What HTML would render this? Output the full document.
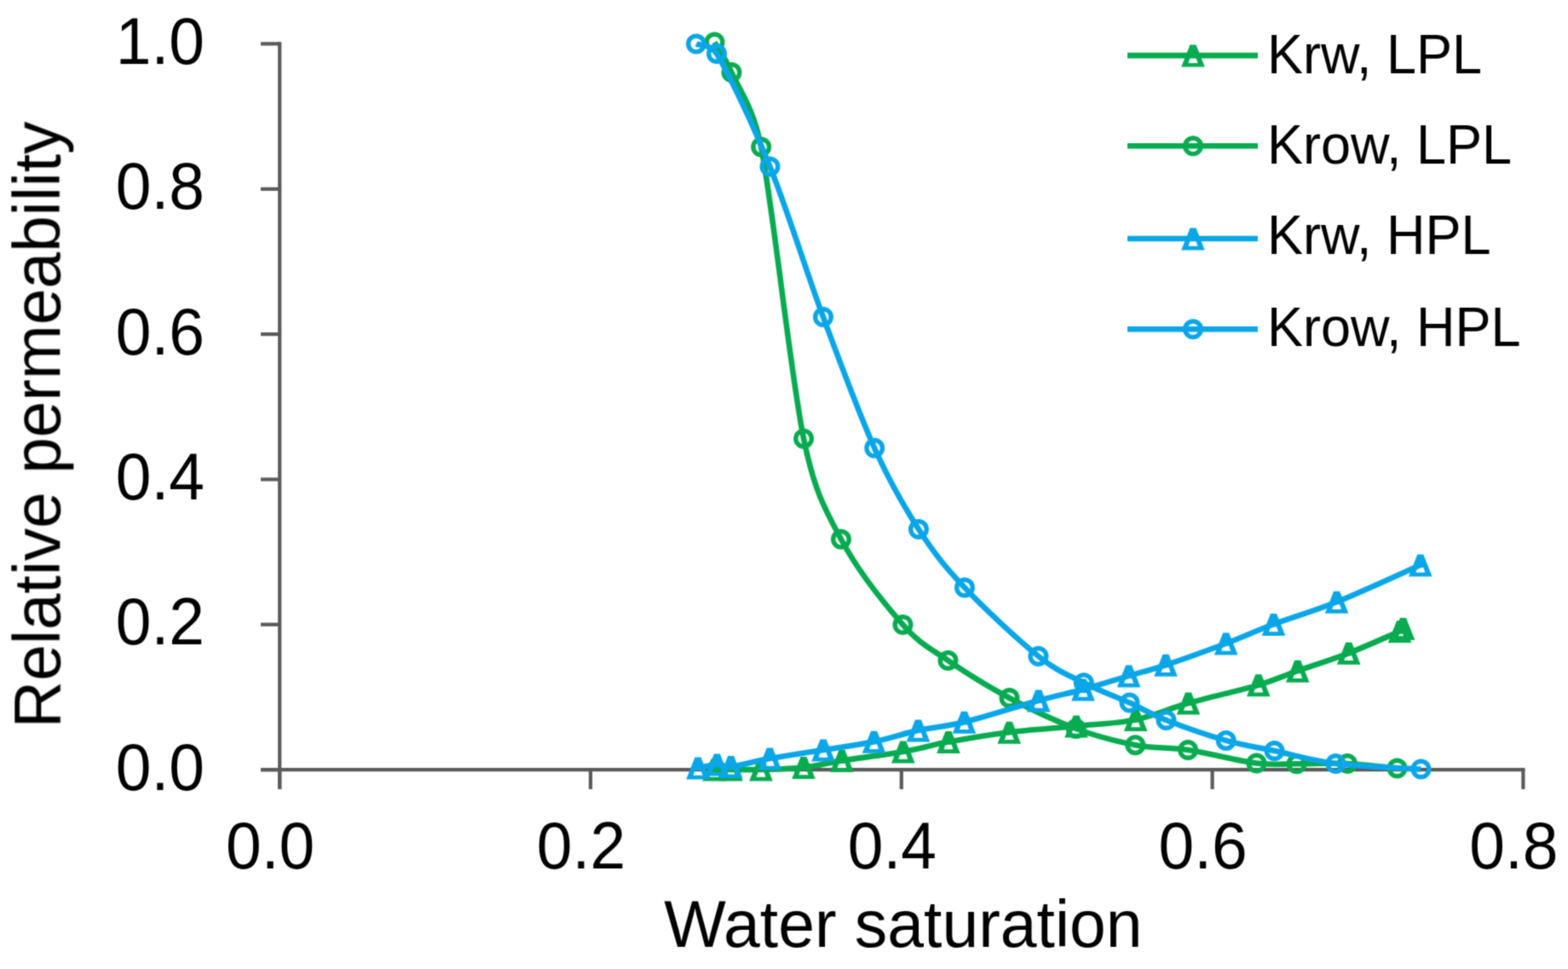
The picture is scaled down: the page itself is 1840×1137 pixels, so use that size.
<!DOCTYPE html><html><head><meta charset="utf-8"><style>html,body{margin:0;padding:0;background:#fff;}svg{display:block;}text{font-family:"Liberation Sans",Arial,sans-serif;fill:#000;}</style></head><body>
<svg width="1840" height="1137" viewBox="0 0 1840 1137">
<defs><filter id="b" x="0" y="0" width="1840" height="1137" filterUnits="userSpaceOnUse" color-interpolation-filters="sRGB"><feConvolveMatrix order="3" kernelMatrix="0.0400 0.1200 0.0400 0.1200 0.3600 0.1200 0.0400 0.1200 0.0400" divisor="1" edgeMode="duplicate" preserveAlpha="false"/></filter></defs>
<rect width="1840" height="1137" fill="#fff"/>
<g filter="url(#b)">
<g stroke="#5a5a5a" stroke-width="4.2" fill="none" stroke-linecap="butt">
<line x1="328.2" y1="49.3" x2="328.2" y2="926"/>
<line x1="306" y1="903.2" x2="1789.5" y2="903.2"/>
<line x1="306" y1="903.2" x2="328.2" y2="903.2"/>
<line x1="306" y1="732.8" x2="328.2" y2="732.8"/>
<line x1="306" y1="562.5" x2="328.2" y2="562.5"/>
<line x1="306" y1="392.1" x2="328.2" y2="392.1"/>
<line x1="306" y1="221.8" x2="328.2" y2="221.8"/>
<line x1="306" y1="51.4" x2="328.2" y2="51.4"/>
<line x1="328.2" y1="903.2" x2="328.2" y2="926"/>
<line x1="693.0" y1="903.2" x2="693.0" y2="926"/>
<line x1="1057.8" y1="903.2" x2="1057.8" y2="926"/>
<line x1="1422.6" y1="903.2" x2="1422.6" y2="926"/>
<line x1="1787.4" y1="903.2" x2="1787.4" y2="926"/>
</g>
<g transform="translate(240,926.7) scale(1,1.025)"><text x="0.0" y="0.0" font-size="75.0" text-anchor="end">0.0</text></g>
<g transform="translate(240,756.3) scale(1,1.025)"><text x="0.0" y="0.0" font-size="75.0" text-anchor="end">0.2</text></g>
<g transform="translate(240,586.0) scale(1,1.025)"><text x="0.0" y="0.0" font-size="75.0" text-anchor="end">0.4</text></g>
<g transform="translate(240,415.6) scale(1,1.025)"><text x="0.0" y="0.0" font-size="75.0" text-anchor="end">0.6</text></g>
<g transform="translate(240,245.3) scale(1,1.025)"><text x="0.0" y="0.0" font-size="75.0" text-anchor="end">0.8</text></g>
<g transform="translate(240,74.9) scale(1,1.025)"><text x="0.0" y="0.0" font-size="75.0" text-anchor="end">1.0</text></g>
<g transform="translate(317.2,1019) scale(1,1.025)"><text x="0.0" y="0.0" font-size="75.0" text-anchor="middle">0.0</text></g>
<g transform="translate(682.0,1019) scale(1,1.025)"><text x="0.0" y="0.0" font-size="75.0" text-anchor="middle">0.2</text></g>
<g transform="translate(1046.8,1019) scale(1,1.025)"><text x="0.0" y="0.0" font-size="75.0" text-anchor="middle">0.4</text></g>
<g transform="translate(1411.6,1019) scale(1,1.025)"><text x="0.0" y="0.0" font-size="75.0" text-anchor="middle">0.6</text></g>
<g transform="translate(1776.4,1019) scale(1,1.025)"><text x="0.0" y="0.0" font-size="75.0" text-anchor="middle">0.8</text></g>
<g transform="translate(1059.9,1111) scale(1,1.018)"><text x="0.0" y="0.0" font-size="76.9" text-anchor="middle">Water saturation</text></g>
<g transform="translate(70.6,498.4) rotate(-90) scale(1,1.018)"><text x="0.0" y="0.0" font-size="76.7" text-anchor="middle">Relative permeability</text></g>
<path d="M838.0,903.0 C841.3,903.0 848.8,903.0 858.0,903.0 C867.2,903.0 878.8,903.4 893.0,903.0 C907.2,902.6 927.2,902.2 943.0,900.5 C958.8,898.8 968.5,895.6 988.0,892.5 C1007.5,889.4 1039.0,885.7 1059.8,882.0 C1080.6,878.3 1092.2,874.3 1113.0,870.5 C1133.8,866.7 1159.3,862.3 1184.3,859.2 C1209.3,856.1 1238.3,854.5 1263.0,852.0 C1287.7,849.5 1310.8,849.0 1332.7,844.5 C1354.6,840.0 1370.5,831.8 1394.5,825.0 C1418.5,818.2 1455.4,810.1 1476.8,803.8 C1498.2,797.5 1505.0,793.5 1522.7,787.2 C1540.4,781.0 1562.7,774.0 1582.7,766.3 C1602.7,758.6 1632.6,745.0 1642.6,740.8" fill="none" stroke="#08ab50" stroke-width="6.6" stroke-linejoin="round"/>
<path d="M834.5,890.5 L841.5,890.5 L851.8,916.5 L824.2,916.5Z M834.5,906.0 L841.5,906.0 L843.5,911.8 L832.5,911.8Z" fill="#08ab50" fill-rule="evenodd"/>
<path d="M854.5,890.5 L861.5,890.5 L871.8,916.5 L844.2,916.5Z M854.5,906.0 L861.5,906.0 L863.5,911.8 L852.5,911.8Z" fill="#08ab50" fill-rule="evenodd"/>
<path d="M889.5,890.5 L896.5,890.5 L906.8,916.5 L879.2,916.5Z M889.5,906.0 L896.5,906.0 L898.5,911.8 L887.5,911.8Z" fill="#08ab50" fill-rule="evenodd"/>
<path d="M939.5,888.0 L946.5,888.0 L956.8,914.0 L929.2,914.0Z M939.5,903.5 L946.5,903.5 L948.5,909.3 L937.5,909.3Z" fill="#08ab50" fill-rule="evenodd"/>
<path d="M984.5,880.0 L991.5,880.0 L1001.8,906.0 L974.2,906.0Z M984.5,895.5 L991.5,895.5 L993.5,901.3 L982.5,901.3Z" fill="#08ab50" fill-rule="evenodd"/>
<path d="M1056.3,869.5 L1063.3,869.5 L1073.6,895.5 L1046.0,895.5Z M1056.3,885.0 L1063.3,885.0 L1065.3,890.8 L1054.3,890.8Z" fill="#08ab50" fill-rule="evenodd"/>
<path d="M1109.5,858.0 L1116.5,858.0 L1126.8,884.0 L1099.2,884.0Z M1109.5,873.5 L1116.5,873.5 L1118.5,879.3 L1107.5,879.3Z" fill="#08ab50" fill-rule="evenodd"/>
<path d="M1180.8,846.7 L1187.8,846.7 L1198.1,872.7 L1170.5,872.7Z M1180.8,862.2 L1187.8,862.2 L1189.8,868.0 L1178.8,868.0Z" fill="#08ab50" fill-rule="evenodd"/>
<path d="M1259.5,839.5 L1266.5,839.5 L1276.8,865.5 L1249.2,865.5Z M1259.5,855.0 L1266.5,855.0 L1268.5,860.8 L1257.5,860.8Z" fill="#08ab50" fill-rule="evenodd"/>
<path d="M1329.2,832.0 L1336.2,832.0 L1346.5,858.0 L1318.9,858.0Z M1329.2,847.5 L1336.2,847.5 L1338.2,853.3 L1327.2,853.3Z" fill="#08ab50" fill-rule="evenodd"/>
<path d="M1391.0,812.5 L1398.0,812.5 L1408.3,838.5 L1380.7,838.5Z M1391.0,828.0 L1398.0,828.0 L1400.0,833.8 L1389.0,833.8Z" fill="#08ab50" fill-rule="evenodd"/>
<path d="M1473.3,791.3 L1480.3,791.3 L1490.6,817.3 L1463.0,817.3Z M1473.3,806.8 L1480.3,806.8 L1482.3,812.6 L1471.3,812.6Z" fill="#08ab50" fill-rule="evenodd"/>
<path d="M1519.2,774.7 L1526.2,774.7 L1536.5,800.7 L1508.9,800.7Z M1519.2,790.2 L1526.2,790.2 L1528.2,796.0 L1517.2,796.0Z" fill="#08ab50" fill-rule="evenodd"/>
<path d="M1579.2,753.8 L1586.2,753.8 L1596.5,779.8 L1568.9,779.8Z M1579.2,769.3 L1586.2,769.3 L1588.2,775.1 L1577.2,775.1Z" fill="#08ab50" fill-rule="evenodd"/>
<path d="M1639.1,728.3 L1646.1,728.3 L1656.4,754.3 L1628.8,754.3Z M1639.1,743.8 L1646.1,743.8 L1648.1,749.6 L1637.1,749.6Z" fill="#08ab50" fill-rule="evenodd"/>
<path d="M1643.0,725.0 L1650.0,725.0 L1660.3,751.0 L1632.7,751.0Z M1643.0,740.5 L1650.0,740.5 L1652.0,746.3 L1641.0,746.3Z" fill="#08ab50" fill-rule="evenodd"/>
<path d="M838.5,49.5 C841.8,55.4 850.2,66.4 858.5,85.0 C867.6,105.5 884.1,126.3 893.2,172.5 C907.3,244.1 927.5,438.0 943.1,514.7 C955.7,576.4 967.6,596.4 987.0,632.8 C1006.4,669.2 1038.6,709.3 1059.5,733.0 C1080.4,756.7 1091.7,760.7 1112.5,775.0 C1133.3,789.3 1159.5,805.7 1184.5,819.0 C1209.5,832.3 1238.1,845.8 1262.7,855.0 C1287.3,864.2 1310.4,870.0 1332.3,874.2 C1354.2,878.4 1370.4,876.5 1394.1,880.0 C1417.8,883.5 1453.2,892.8 1474.5,895.5 C1495.8,898.2 1503.8,896.2 1521.6,896.3 C1539.3,896.4 1561.3,895.1 1581.0,896.0 C1600.7,896.9 1629.8,900.6 1639.5,901.5" fill="none" stroke="#08ab50" stroke-width="6.6" stroke-linejoin="round"/>
<circle cx="838.5" cy="49.5" r="9.3" fill="none" stroke="#08ab50" stroke-width="5.4"/>
<circle cx="858.5" cy="85.0" r="9.3" fill="none" stroke="#08ab50" stroke-width="5.4"/>
<circle cx="893.2" cy="172.5" r="9.3" fill="none" stroke="#08ab50" stroke-width="5.4"/>
<circle cx="943.1" cy="514.7" r="9.3" fill="none" stroke="#08ab50" stroke-width="5.4"/>
<circle cx="987.0" cy="632.8" r="9.3" fill="none" stroke="#08ab50" stroke-width="5.4"/>
<circle cx="1059.5" cy="733.0" r="9.3" fill="none" stroke="#08ab50" stroke-width="5.4"/>
<circle cx="1112.5" cy="775.0" r="9.3" fill="none" stroke="#08ab50" stroke-width="5.4"/>
<circle cx="1184.5" cy="819.0" r="9.3" fill="none" stroke="#08ab50" stroke-width="5.4"/>
<circle cx="1262.7" cy="855.0" r="9.3" fill="none" stroke="#08ab50" stroke-width="5.4"/>
<circle cx="1332.3" cy="874.2" r="9.3" fill="none" stroke="#08ab50" stroke-width="5.4"/>
<circle cx="1394.1" cy="880.0" r="9.3" fill="none" stroke="#08ab50" stroke-width="5.4"/>
<circle cx="1474.5" cy="895.5" r="9.3" fill="none" stroke="#08ab50" stroke-width="5.4"/>
<circle cx="1521.6" cy="896.3" r="9.3" fill="none" stroke="#08ab50" stroke-width="5.4"/>
<circle cx="1581.0" cy="896.0" r="9.3" fill="none" stroke="#08ab50" stroke-width="5.4"/>
<circle cx="1639.5" cy="901.5" r="9.3" fill="none" stroke="#08ab50" stroke-width="5.4"/>
<path d="M819.0,901.0 C822.7,900.3 834.9,897.2 841.4,897.0 C847.9,896.8 849.5,900.5 857.7,899.6 C868.0,898.4 885.2,893.3 903.3,890.0 C921.4,886.7 945.7,883.3 966.1,880.0 C986.5,876.7 1007.0,874.1 1025.6,870.3 C1044.2,866.5 1059.8,860.8 1077.5,857.0 C1095.2,853.2 1108.0,853.1 1131.5,847.3 C1155.0,841.5 1195.5,828.4 1218.7,822.0 C1242.0,815.6 1253.3,813.8 1271.0,809.0 C1288.7,804.2 1308.4,797.8 1324.6,793.0 C1340.8,788.2 1349.0,786.6 1368.0,780.3 C1387.0,774.0 1417.6,763.0 1438.7,755.0 C1459.8,747.0 1472.8,740.6 1494.5,732.5 C1516.2,724.4 1539.9,717.9 1568.6,706.3 C1597.3,694.7 1650.4,670.2 1666.8,663.0" fill="none" stroke="#0aa6e8" stroke-width="6.6" stroke-linejoin="round"/>
<path d="M815.5,888.5 L822.5,888.5 L832.8,914.5 L805.2,914.5Z M815.5,904.0 L822.5,904.0 L824.5,909.8 L813.5,909.8Z" fill="#0aa6e8" fill-rule="evenodd"/>
<path d="M837.9,884.5 L844.9,884.5 L855.2,910.5 L827.6,910.5Z M837.9,900.0 L844.9,900.0 L846.9,905.8 L835.9,905.8Z" fill="#0aa6e8" fill-rule="evenodd"/>
<path d="M854.2,887.1 L861.2,887.1 L871.5,913.1 L843.9,913.1Z M854.2,902.6 L861.2,902.6 L863.2,908.4 L852.2,908.4Z" fill="#0aa6e8" fill-rule="evenodd"/>
<path d="M899.8,877.5 L906.8,877.5 L917.1,903.5 L889.5,903.5Z M899.8,893.0 L906.8,893.0 L908.8,898.8 L897.8,898.8Z" fill="#0aa6e8" fill-rule="evenodd"/>
<path d="M962.6,867.5 L969.6,867.5 L979.9,893.5 L952.3,893.5Z M962.6,883.0 L969.6,883.0 L971.6,888.8 L960.6,888.8Z" fill="#0aa6e8" fill-rule="evenodd"/>
<path d="M1022.1,857.8 L1029.1,857.8 L1039.4,883.8 L1011.8,883.8Z M1022.1,873.3 L1029.1,873.3 L1031.1,879.1 L1020.1,879.1Z" fill="#0aa6e8" fill-rule="evenodd"/>
<path d="M1074.0,844.5 L1081.0,844.5 L1091.3,870.5 L1063.7,870.5Z M1074.0,860.0 L1081.0,860.0 L1083.0,865.8 L1072.0,865.8Z" fill="#0aa6e8" fill-rule="evenodd"/>
<path d="M1128.0,834.8 L1135.0,834.8 L1145.3,860.8 L1117.7,860.8Z M1128.0,850.3 L1135.0,850.3 L1137.0,856.1 L1126.0,856.1Z" fill="#0aa6e8" fill-rule="evenodd"/>
<path d="M1215.2,809.5 L1222.2,809.5 L1232.5,835.5 L1204.9,835.5Z M1215.2,825.0 L1222.2,825.0 L1224.2,830.8 L1213.2,830.8Z" fill="#0aa6e8" fill-rule="evenodd"/>
<path d="M1267.5,796.5 L1274.5,796.5 L1284.8,822.5 L1257.2,822.5Z M1267.5,812.0 L1274.5,812.0 L1276.5,817.8 L1265.5,817.8Z" fill="#0aa6e8" fill-rule="evenodd"/>
<path d="M1321.1,780.5 L1328.1,780.5 L1338.4,806.5 L1310.8,806.5Z M1321.1,796.0 L1328.1,796.0 L1330.1,801.8 L1319.1,801.8Z" fill="#0aa6e8" fill-rule="evenodd"/>
<path d="M1364.5,767.8 L1371.5,767.8 L1381.8,793.8 L1354.2,793.8Z M1364.5,783.3 L1371.5,783.3 L1373.5,789.1 L1362.5,789.1Z" fill="#0aa6e8" fill-rule="evenodd"/>
<path d="M1435.2,742.5 L1442.2,742.5 L1452.5,768.5 L1424.9,768.5Z M1435.2,758.0 L1442.2,758.0 L1444.2,763.8 L1433.2,763.8Z" fill="#0aa6e8" fill-rule="evenodd"/>
<path d="M1491.0,720.0 L1498.0,720.0 L1508.3,746.0 L1480.7,746.0Z M1491.0,735.5 L1498.0,735.5 L1500.0,741.3 L1489.0,741.3Z" fill="#0aa6e8" fill-rule="evenodd"/>
<path d="M1565.1,693.8 L1572.1,693.8 L1582.4,719.8 L1554.8,719.8Z M1565.1,709.3 L1572.1,709.3 L1574.1,715.1 L1563.1,715.1Z" fill="#0aa6e8" fill-rule="evenodd"/>
<path d="M1663.3,650.5 L1670.3,650.5 L1680.6,676.5 L1653.0,676.5Z M1663.3,666.0 L1670.3,666.0 L1672.3,671.8 L1661.3,671.8Z" fill="#0aa6e8" fill-rule="evenodd"/>
<path d="M817.0,51.5 C821.0,53.4 834.1,51.6 841.0,63.0 C855.4,87.0 882.7,144.0 903.5,195.5 C924.3,247.0 945.5,316.9 966.0,372.0 C986.5,427.1 1007.5,484.3 1026.2,525.8 C1044.9,567.3 1060.4,593.7 1078.0,621.0 C1095.6,648.3 1108.6,664.7 1132.0,689.5 C1155.4,714.3 1195.2,751.4 1218.5,770.0 C1241.8,788.6 1254.0,792.1 1271.8,801.2 C1289.6,810.3 1309.4,817.3 1325.5,824.6 C1341.6,831.9 1349.6,837.6 1368.5,845.0 C1387.4,852.4 1417.5,862.9 1438.7,868.9 C1459.9,874.9 1474.0,876.5 1495.5,881.0 C1517.0,885.5 1538.8,892.4 1567.5,896.0 C1596.2,899.6 1650.8,901.4 1667.5,902.5" fill="none" stroke="#0aa6e8" stroke-width="6.6" stroke-linejoin="round"/>
<circle cx="817.0" cy="51.5" r="9.3" fill="none" stroke="#0aa6e8" stroke-width="5.4"/>
<circle cx="841.0" cy="63.0" r="9.3" fill="none" stroke="#0aa6e8" stroke-width="5.4"/>
<circle cx="903.5" cy="195.5" r="9.3" fill="none" stroke="#0aa6e8" stroke-width="5.4"/>
<circle cx="966.0" cy="372.0" r="9.3" fill="none" stroke="#0aa6e8" stroke-width="5.4"/>
<circle cx="1026.2" cy="525.8" r="9.3" fill="none" stroke="#0aa6e8" stroke-width="5.4"/>
<circle cx="1078.0" cy="621.0" r="9.3" fill="none" stroke="#0aa6e8" stroke-width="5.4"/>
<circle cx="1132.0" cy="689.5" r="9.3" fill="none" stroke="#0aa6e8" stroke-width="5.4"/>
<circle cx="1218.5" cy="770.0" r="9.3" fill="none" stroke="#0aa6e8" stroke-width="5.4"/>
<circle cx="1271.8" cy="801.2" r="9.3" fill="none" stroke="#0aa6e8" stroke-width="5.4"/>
<circle cx="1325.5" cy="824.6" r="9.3" fill="none" stroke="#0aa6e8" stroke-width="5.4"/>
<circle cx="1368.5" cy="845.0" r="9.3" fill="none" stroke="#0aa6e8" stroke-width="5.4"/>
<circle cx="1438.7" cy="868.9" r="9.3" fill="none" stroke="#0aa6e8" stroke-width="5.4"/>
<circle cx="1495.5" cy="881.0" r="9.3" fill="none" stroke="#0aa6e8" stroke-width="5.4"/>
<circle cx="1567.5" cy="896.0" r="9.3" fill="none" stroke="#0aa6e8" stroke-width="5.4"/>
<circle cx="1667.5" cy="902.5" r="9.3" fill="none" stroke="#0aa6e8" stroke-width="5.4"/>
<line x1="1323" y1="65.1" x2="1476" y2="65.1" stroke="#08ab50" stroke-width="6.6"/>
<path d="M1396.5,52.6 L1403.5,52.6 L1413.8,78.6 L1386.2,78.6Z M1396.5,68.1 L1403.5,68.1 L1405.5,73.9 L1394.5,73.9Z" fill="#08ab50" fill-rule="evenodd"/>
<g transform="translate(1487,85.5) scale(1,1.020)"><text x="0.0" y="0.0" font-size="63.0" text-anchor="start">Krw, LPL</text></g>
<line x1="1323" y1="171.3" x2="1476" y2="171.3" stroke="#08ab50" stroke-width="6.6"/>
<circle cx="1400.0" cy="171.3" r="9.3" fill="none" stroke="#08ab50" stroke-width="5.4"/>
<g transform="translate(1487,191.5) scale(1,1.020)"><text x="0.0" y="0.0" font-size="63.0" text-anchor="start">Krow, LPL</text></g>
<line x1="1323" y1="280.0" x2="1476" y2="280.0" stroke="#0aa6e8" stroke-width="6.6"/>
<path d="M1396.5,267.5 L1403.5,267.5 L1413.8,293.5 L1386.2,293.5Z M1396.5,283.0 L1403.5,283.0 L1405.5,288.8 L1394.5,288.8Z" fill="#0aa6e8" fill-rule="evenodd"/>
<g transform="translate(1487,297.7) scale(1,1.020)"><text x="0.0" y="0.0" font-size="63.0" text-anchor="start">Krw, HPL</text></g>
<line x1="1323" y1="386.3" x2="1476" y2="386.3" stroke="#0aa6e8" stroke-width="6.6"/>
<circle cx="1400.0" cy="386.3" r="9.3" fill="none" stroke="#0aa6e8" stroke-width="5.4"/>
<g transform="translate(1487,406.1) scale(1,1.020)"><text x="0.0" y="0.0" font-size="63.0" text-anchor="start">Krow, HPL</text></g>
</g></svg></body></html>
